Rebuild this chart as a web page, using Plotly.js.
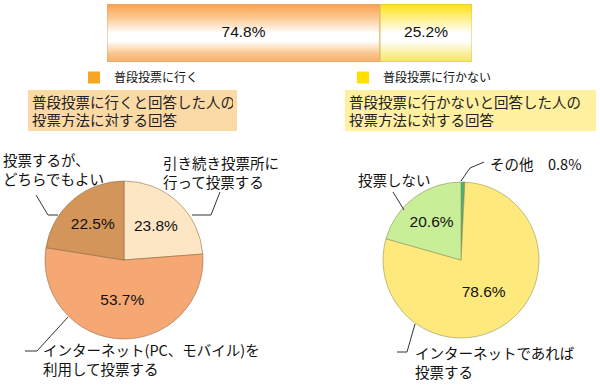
<!DOCTYPE html>
<html><head><meta charset="utf-8">
<script src="https://cdn.plot.ly/plotly-3.0.1.min.js"></script>
<style>html,body{margin:0;padding:0;background:#fff}#chart{width:600px;height:385px}</style>
</head><body><div id="chart"></div>
<script>
// ---- data ----
const barCategories = ['普段投票に行く', '普段投票に行かない'];
const barValues = [74.8, 25.2];

const leftTitle = '普段投票に行くと回答した人の<br>投票方法に対する回答';
const leftLabels = ['引き続き投票所に<br>行って投票する', 'インターネット(PC、モバイル)を<br>利用して投票する', '投票するが、<br>どちらでもよい'];
const leftValues = [23.8, 53.7, 22.5];

const rightTitle = '普段投票に行かないと回答した人の<br>投票方法に対する回答';
const rightLabels = ['その他', 'インターネットであれば<br>投票する', '投票しない'];
const rightValues = [0.8, 78.6, 20.6];

// ---- styles ----
const W = 600, H = 385;
const px = x => x / W, py = y => 1 - y / H;
const JP = '"Noto Sans CJK JP", sans-serif';
const NUM = '"Liberation Sans", Arial, sans-serif';

const legendColors = ['#F6A623', '#FFE000'];
const legendIds = ['legend', 'legend2'];
const barEdge = ['#D9A878', '#D6C25A'];
const barScales = [
  [[0,'#F8AE66'],[0.15,'#FAC690'],[0.36,'#FFFFFF'],[0.5,'#FFFFFF'],[0.75,'#FCCB95'],[1,'#F9A04C']],
  [[0,'#F7E46A'],[0.15,'#FAEE9E'],[0.36,'#FFFFFF'],[0.5,'#FFFFFF'],[0.75,'#FFF08A'],[1,'#FFE010']]
];
const leftColors = ['#FDE6C4', '#F5A874', '#D4955A'];
const rightColors = ['#4FB173', '#FDE97C', '#C9EE98'];

const traces = [];
let start = 0;
const starts = barValues.map(v => { const s = start; start += v; return s; });

// legend-bearing bars
barValues.forEach((v, i) => {
  traces.push({
    type: 'bar', orientation: 'h', x: [v], base: [starts[i]], y: [0.5], width: 1,
    name: barCategories[i], legend: legendIds[i],
    marker: {color: legendColors[i], line: {width: 0}},
    hoverinfo: 'skip', showlegend: true, textposition: 'none'
  });
});
// gradient fill of bars
barValues.forEach((v, i) => {
  const s = starts[i];
  traces.push({
    type: 'scatter', mode: 'lines', x: [s, s, s + v, s + v, s], y: [0, 1, 1, 0, 0],
    fill: 'toself', fillgradient: {type: 'vertical', colorscale: barScales[i], start: 0, stop: 1},
    line: {color: barEdge[i], width: 1}, hoverinfo: 'skip', showlegend: false
  });
});
// bar value text
traces.push({
  type: 'scatter', mode: 'text',
  x: barValues.map((v, i) => starts[i] + v / 2), y: barValues.map(() => 0.5),
  text: barValues.map(v => v.toFixed(1) + '%'),
  textfont: {family: NUM, size: 15.5, color: '#111'}, hoverinfo: 'skip', showlegend: false
});

// pies
traces.push({
  type: 'pie', labels: leftLabels, values: leftValues, sort: false, direction: 'clockwise', rotation: 0,
  domain: {x: [px(45), px(203)], y: [py(339), py(181)]},
  marker: {colors: leftColors, line: {color: 'rgba(140,100,60,0.55)', width: 1}},
  textinfo: 'none', texttemplate: '%{value:.1f}%', textposition: 'inside', insidetextorientation: 'horizontal',
  textfont: {family: NUM, size: 15.5, color: '#111'}, hoverinfo: 'skip', showlegend: false
});
traces.push({
  type: 'pie', labels: rightLabels, values: rightValues, sort: false, direction: 'clockwise', rotation: 0,
  domain: {x: [px(383), px(539)], y: [py(338), py(182)]},
  marker: {colors: rightColors, line: {color: 'rgba(140,140,90,0.55)', width: 1}},
  textinfo: 'none', texttemplate: '%{value:.1f}%', textposition: ['none', 'inside', 'inside'], insidetextorientation: 'horizontal',
  textfont: {family: NUM, size: 15.5, color: '#111'}, hoverinfo: 'skip', showlegend: false
});

const lab = (text, x, y) => ({
  text, xref: 'paper', yref: 'paper', x: px(x), y: py(y), xanchor: 'left', yanchor: 'middle',
  align: 'left', showarrow: false, font: {family: JP, size: 14.5, color: '#111'}
});
const box = (text, x0, x1, y0, y1, color) => ({
  text, xref: 'paper', yref: 'paper', x: px(x0), y: py(y0), xanchor: 'left', yanchor: 'top',
  width: x1 - x0 - 8, height: y1 - y0 - 8, borderpad: 4, borderwidth: 0, bgcolor: color,
  align: 'left', valign: 'middle', showarrow: false, font: {family: JP, size: 14.5, color: '#222'}
});

const annotations = [
  box(leftTitle, 28, 237, 90, 131, '#FCDAA6'),
  box(rightTitle, 345, 596, 90, 131, '#FFF1A0'),
  lab(leftLabels[0], 161, 172),
  lab(leftLabels[1], 41, 359),
  lab(leftLabels[2], 1, 169),
  lab(rightLabels[0] + '　' + rightValues[0].toFixed(1) + '%', 488, 163),
  lab(rightLabels[2], 356, 180),
  lab(rightLabels[1], 413, 362)
];

const path = pts => ({
  type: 'path', xref: 'paper', yref: 'paper',
  path: pts.map((p, i) => (i ? 'L' : 'M') + px(p[0]) + ',' + py(p[1])).join(' '),
  line: {color: '#333', width: 1}
});
const shapes = [
  path([[220,192],[211,215],[192,215]]),
  path([[36,195],[48,215],[58,215]]),
  path([[25,351],[37,351],[68,317]]),
  path([[461,181],[470,168],[484,162]]),
  path([[393,192],[404,210]]),
  path([[397,352],[407,352],[415,324]])
];

const legendBase = {orientation: 'h', xanchor: 'left', yanchor: 'top', y: py(63),
  font: {family: JP, size: 12, color: '#111'}, bgcolor: 'rgba(0,0,0,0)'};

const layout = {
  width: W, height: H, margin: {l: 0, r: 0, t: 0, b: 0},
  paper_bgcolor: '#fff', plot_bgcolor: 'rgba(0,0,0,0)',
  barmode: 'overlay', showlegend: true,
  xaxis: {domain: [px(107), px(472)], range: [0, 100], visible: false, fixedrange: true},
  yaxis: {domain: [py(62), py(4)], range: [0, 1], visible: false, fixedrange: true},
  legend: Object.assign({x: px(74)}, legendBase),
  legend2: Object.assign({x: px(343)}, legendBase),
  annotations, shapes
};

Plotly.newPlot('chart', traces, layout, {staticPlot: true, displayModeBar: false});
</script>
</body></html>
